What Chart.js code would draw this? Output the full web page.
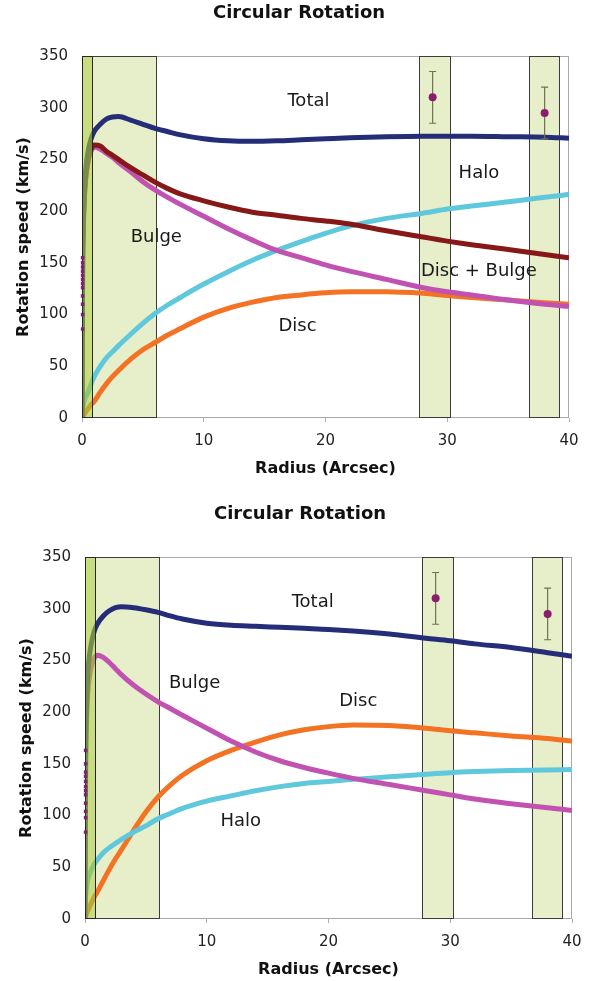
<!DOCTYPE html>
<html>
<head>
<meta charset="utf-8">
<script src="https://cdn.jsdelivr.net/npm/chart.js@4.4.1/dist/chart.umd.min.js"></script>
<style>
  html, body { margin: 0; padding: 0; background: #fff; overflow: hidden; }
  canvas { position: absolute; }
  #c1 { left: 0; top: 0; }
  #c2 { left: 3px; top: 501px; }
</style>
</head>
<body>
<canvas id="c1" width="593" height="490"></canvas>
<canvas id="c2" width="593" height="490"></canvas>
<script>
// radius samples (arcsec) shared by all model curves
const radius = [0, 0.05, 0.1, 0.2, 0.3, 0.5, 0.75, 1, 1.5, 2, 2.5, 3, 4, 5, 6, 7, 8, 10, 12, 14, 16, 18, 20, 22, 25, 28, 30, 32, 35, 38, 40];

// top chart
const topTotal     = [0, 150, 190, 225, 240, 258, 270, 277, 284, 289, 291, 291.5, 288, 284, 280, 277, 274, 270, 268, 267.5, 268, 269, 270, 271, 272, 272.5, 272.5, 272.5, 272, 271.5, 270.5];
const topDiscBulge = [0, 140, 180, 215, 232, 250, 260, 264, 263, 258, 254, 250, 242, 235, 228, 222, 217, 210, 204, 199, 196, 193, 190.5, 187.5, 181, 175, 171, 167.5, 163, 158, 155];
const topBulge     = [0, 140, 180, 213, 230, 248, 258, 262, 260, 256, 252, 247, 238, 228.5, 220.5, 213.5, 207, 195, 183, 172, 162, 155, 148, 142, 134, 126, 122, 119, 114, 110, 108];
const topHalo      = [0, 8, 12, 17, 20, 25, 33, 40, 50, 58, 64, 70, 81, 91.5, 101, 109, 116, 129.5, 141.5, 152.5, 162, 170.5, 178.5, 185.5, 193, 198, 202, 205, 209, 213.5, 216];
const topDisc      = [0, 1, 2, 4, 6, 9, 13, 16, 25, 33, 40, 46, 57, 66, 73, 80, 86, 97.5, 106, 112, 116.5, 119, 121, 122, 122, 120.5, 118.5, 116.5, 114, 111.5, 110];

// bottom chart
const botTotal = [0, 150, 195, 230, 248, 265, 278, 285, 293, 298, 301, 302, 301, 299, 296.5, 293, 290, 286, 284, 283, 282, 281, 280, 278.5, 275.5, 271.5, 269, 266, 262.5, 257.5, 254];
const botBulge = [0, 140, 180, 212, 228, 243, 252, 255, 253, 248, 242, 236, 226, 217.5, 210, 203.5, 197, 184.5, 172, 161.5, 153, 146.5, 141, 136, 130, 124, 120, 116, 111.5, 107.5, 105];
const botDisc  = [0, 2, 4, 7, 10, 15, 21, 26, 37, 48, 58, 67, 86, 103.5, 118, 129.5, 139, 153, 163, 171, 178, 183, 186, 187.5, 187, 184.5, 182, 180, 177, 174.5, 172];
const botHalo  = [14, 22, 28, 36, 41, 47, 53, 57, 64, 69, 73, 77, 84, 90, 97, 102, 107, 114, 119, 124, 128, 131, 133, 135, 137.5, 140, 141.5, 142.5, 143.5, 144, 144.5];

// inner measured points, near the centre
const innerRadius = [0.05, 0.05, 0.05, 0.05, 0.05, 0.05, 0.05, 0.05, 0.05, 0.05, 0.05, 0.05];
const topInner    = [86, 100, 110, 118, 126, 130, 134, 138, 142, 146, 150, 155];
const botInner    = [84, 98, 104, 112, 120, 124, 128, 133, 138, 142, 150, 163];

// outer measured points with error bars
const obsRadius = [28.8, 38.0];
const obsSpeed  = [310, 295];
const obsError  = [25, 25];

// shaded radius ranges (first one is the inner, darker strip)
const bandStart = [0, 0.84, 27.7, 36.7];
const bandEnd   = [0.84, 6.1, 30.2, 39.2];

const xTicks = [0, 10, 20, 30, 40];
const yTicks = [0, 50, 100, 150, 200, 250, 300, 350];

// curve labels
const topLabels  = ['Total', 'Halo', 'Bulge', 'Disc + Bulge', 'Disc'];
const topLabelX  = [18.6, 32.6, 6.1, 32.6, 17.7];
const topLabelY  = [306, 236.5, 175, 142, 89];
const botLabels  = ['Total', 'Bulge', 'Disc', 'Halo'];
const botLabelX  = [18.7, 9.0, 22.45, 12.8];
const botLabelY  = [306, 228, 210, 94];

const FONT = '"DejaVu Sans", Verdana, sans-serif';
const LIGHT_BAND = '#e6efca';
const DARK_BAND = 'rgba(165,200,50,0.62)';

function bandRect(chart, i) {
  const { x, y } = chart.scales;
  const x0 = Math.round(x.getPixelForValue(bandStart[i])) + 0.5;
  const x1 = Math.round(x.getPixelForValue(bandEnd[i])) + 0.5;
  const yt = Math.round(y.getPixelForValue(y.max)) + 0.5;
  const yb = Math.round(y.getPixelForValue(y.min)) - 0.5;
  return [x0, yt, x1 - x0, yb - yt];
}

const extras = {
  id: 'extras',
  beforeDatasetsDraw(chart) {
    const { ctx, chartArea: a } = chart;
    chart.$bandsDone = false;
    ctx.save();
    ctx.strokeStyle = '#a8a8a8';
    ctx.lineWidth = 1;
    ctx.strokeRect(a.left + 0.5, a.top + 0.5, a.right - a.left - 1, a.bottom - a.top - 1);
    // wide bands sit under the curves
    for (let i = 1; i < bandStart.length; i++) {
      const r = bandRect(chart, i);
      ctx.fillStyle = LIGHT_BAND;
      ctx.fillRect(...r);
      ctx.strokeStyle = '#3c3c3c';
      ctx.strokeRect(...r);
    }
    ctx.restore();
  },
  beforeDatasetDraw(chart, args) {
    const ds = chart.data.datasets[args.index];
    if (!ds.overBands) return;
    const { ctx, scales: { x, y } } = chart;
    if (!chart.$bandsDone) {
      // the inner strip is laid over the curves
      chart.$bandsDone = true;
      ctx.save();
      const r = bandRect(chart, 0);
      ctx.fillStyle = DARK_BAND;
      ctx.fillRect(...r);
      ctx.strokeStyle = '#262626';
      ctx.lineWidth = 1;
      ctx.strokeRect(...r);
      ctx.restore();
    }
    if (ds.errors) {
      ctx.save();
      ctx.strokeStyle = '#70704c';
      ctx.lineWidth = 1.2;
      ds.data.forEach((p, i) => {
        const px = x.getPixelForValue(p.x);
        const top = y.getPixelForValue(p.y + ds.errors[i]);
        const bot = y.getPixelForValue(p.y - ds.errors[i]);
        ctx.beginPath();
        ctx.moveTo(px, top); ctx.lineTo(px, bot);
        ctx.moveTo(px - 3.5, top); ctx.lineTo(px + 3.5, top);
        ctx.moveTo(px - 3.5, bot); ctx.lineTo(px + 3.5, bot);
        ctx.stroke();
      });
      ctx.restore();
    }
  },
  afterDraw(chart, args, o) {
    const { ctx, scales: { x, y } } = chart;
    ctx.save();
    ctx.fillStyle = '#111';
    ctx.textAlign = 'center';
    ctx.textBaseline = 'middle';
    ctx.font = 'bold 18px ' + FONT;
    ctx.fillText('Circular Rotation', o.titleX, 13);
    ctx.font = '18px ' + FONT;
    ctx.fillStyle = '#1a1a1a';
    o.labels.forEach((t, i) => {
      ctx.fillText(t, x.getPixelForValue(o.labelX[i]), y.getPixelForValue(o.labelY[i]));
    });
    ctx.restore();
  }
};

function makeChart(id, curves, inner, labels, labelX, labelY, titleX) {
  const datasets = curves.map(c => ({
    label: c.name,
    data: radius.map((r, i) => ({ x: r, y: c.values[i] })),
    showLine: true,
    borderColor: c.color,
    backgroundColor: c.color,
    borderWidth: 5,
    pointRadius: 0,
    cubicInterpolationMode: 'monotone',
    order: 1
  }));
  datasets.push({
    label: 'Inner',
    data: innerRadius.map((r, i) => ({ x: r, y: inner[i] })),
    overBands: true,
    pointStyle: 'rect',
    pointRadius: 2.5,
    backgroundColor: '#7a2470',
    borderWidth: 0,
    clip: 6,
    order: 0
  });
  datasets.push({
    label: 'Observed',
    data: obsRadius.map((r, i) => ({ x: r, y: obsSpeed[i] })),
    errors: obsError,
    overBands: true,
    pointRadius: 4,
    backgroundColor: '#8a1d6c',
    borderWidth: 0,
    order: 0
  });

  return new Chart(document.getElementById(id), {
    type: 'scatter',
    data: { datasets },
    options: {
      responsive: false,
      animation: false,
      layout: { padding: { top: 56, right: 24, bottom: 0, left: 0 } },
      plugins: {
        legend: { display: false },
        tooltip: { enabled: false },
        extras: { titleX, labels, labelX, labelY }
      },
      scales: {
        x: {
          type: 'linear', min: 0, max: 40,
          afterBuildTicks: s => { s.ticks = xTicks.map(v => ({ value: v })); },
          afterFit: s => { s.height = 72; },
          grid: { drawOnChartArea: false, tickLength: 4, color: '#b0b0b0' },
          border: { display: false },
          ticks: { padding: 10, color: '#222', maxRotation: 0, font: { family: FONT, size: 15 } },
          title: { display: true, text: 'Radius (Arcsec)', color: '#111',
                   font: { family: FONT, size: 16, weight: 'bold' }, padding: { top: 0, bottom: 12 } }
        },
        y: {
          min: 0, max: 350,
          afterBuildTicks: s => { s.ticks = yTicks.map(v => ({ value: v })); },
          afterFit: s => { s.width = 82; },
          grid: { display: false, drawTicks: false },
          border: { display: false },
          ticks: { padding: 14, color: '#222', font: { family: FONT, size: 15 } },
          title: { display: true, text: 'Rotation speed (km/s)', color: '#111',
                   font: { family: FONT, size: 16, weight: 'bold' }, padding: { top: 14, bottom: 0 } }
        }
      }
    },
    plugins: [extras]
  });
}

makeChart('c1', [
  { name: 'Total', values: topTotal, color: '#252c78' },
  { name: 'Disc + Bulge', values: topDiscBulge, color: '#861818' },
  { name: 'Bulge', values: topBulge, color: '#c252b2' },
  { name: 'Halo', values: topHalo, color: '#60c8dc' },
  { name: 'Disc', values: topDisc, color: '#f47224' }
], topInner, topLabels, topLabelX, topLabelY, 299);

makeChart('c2', [
  { name: 'Total', values: botTotal, color: '#252c78' },
  { name: 'Bulge', values: botBulge, color: '#c252b2' },
  { name: 'Halo', values: botHalo, color: '#60c8dc' },
  { name: 'Disc', values: botDisc, color: '#f47224' }
], botInner, botLabels, botLabelX, botLabelY, 297);
</script>
</body>
</html>
